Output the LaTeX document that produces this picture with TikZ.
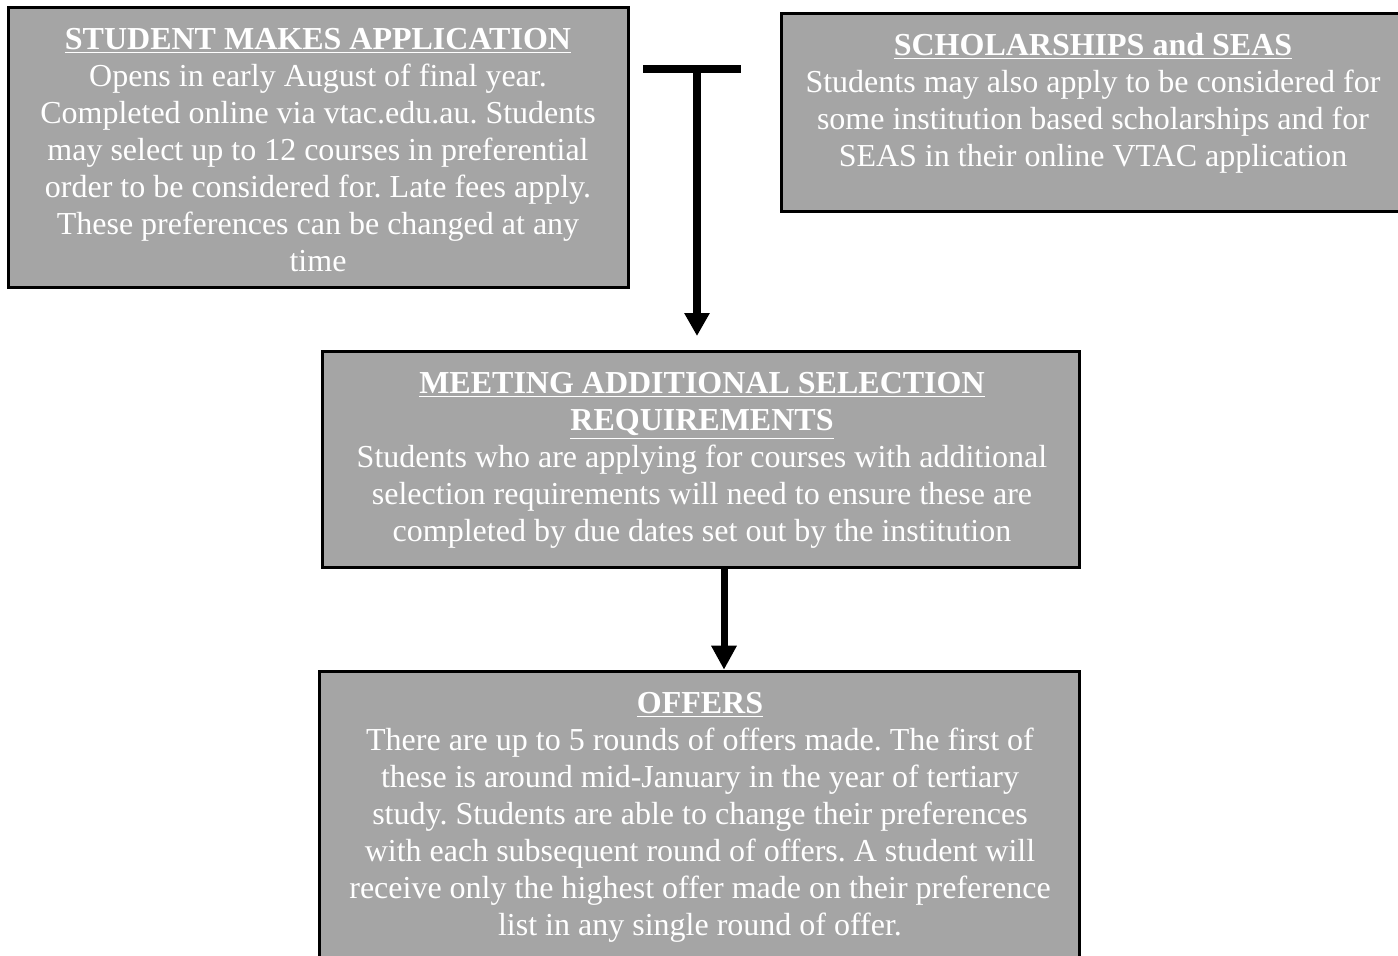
\documentclass[tikz,border=0pt]{standalone}
\usepackage{fontspec}
\setmainfont{Liberation Serif}
\usetikzlibrary{arrows.meta}
\definecolor{boxgray}{HTML}{A5A5A5}
\tikzset{
  flowbox/.style={draw=black, line width=1.8pt, fill=boxgray, rectangle, inner sep=0pt},
  boxtext/.style={text=white, align=center, inner sep=0pt, font=\fontsize{16}{18.5}\selectfont},
  thickarrow/.style={line width=4pt, -{Triangle[width=12pt,length=11.5pt]}},
  thinarrow/.style={line width=3.5pt, -{Triangle[width=12pt,length=12pt]}},
}
\newcommand{\ttl}[1]{\textbf{\underline{#1}}}
\frenchspacing
\begin{document}
\begin{tikzpicture}[x=0.5pt,y=-0.5pt]
\useasboundingbox (0,0) rectangle (1398,955);
\clip (0,0) rectangle (1398,955);
% boxes
\node[flowbox, minimum width=310pt, minimum height=140pt] (b1) at (318.5,147.5) {};
\node[flowbox, minimum width=314.25pt, minimum height=99pt] (b2) at (1095.75,112.5) {};
\node[flowbox, minimum width=378.5pt, minimum height=108pt] (b3) at (701,459.5) {};
\node[flowbox, minimum width=380pt, minimum height=149.25pt] (b4) at (699.5,820.75) {};
% texts
\node[boxtext] (t1) at (318,150) {\ttl{STUDENT MAKES APPLICATION}\\
Opens in early August of final year.\\
Completed online via vtac.edu.au. Students\\
may select up to 12 courses in preferential\\
order to be considered for. Late fees apply.\\
These preferences can be changed at any\\
time};
\node[boxtext] (t2) at (1093,103) {\ttl{SCHOLARSHIPS and SEAS}\\
Students may also apply to be considered for\\
some institution based scholarships and for\\
SEAS in their online VTAC application};
\node[boxtext] (t3) at (702,460.5) {\ttl{MEETING ADDITIONAL SELECTION}\\
\ttl{REQUIREMENTS}\\
Students who are applying for courses with additional\\
selection requirements will need to ensure these are\\
completed by due dates set out by the institution};
\node[boxtext] (t4) at (700,817) {\ttl{OFFERS}\\
There are up to 5 rounds of offers made. The first of\\
these is around mid-January in the year of tertiary\\
study. Students are able to change their preferences\\
with each subsequent round of offers. A student will\\
receive only the highest offer made on their preference\\
list in any single round of offer.};
% T-bar connector
\coordinate (tl) at (643,69);
\coordinate (tr) at (741,69);
\coordinate (tm) at (697,73);
\coordinate (a1end) at (697,336);
\draw[line width=4pt] (tl) -- (tr);
\draw[thickarrow] (tm) -- (a1end);
% second arrow
\coordinate (c2) at (724,600);
\draw[thinarrow] (c2 |- b3.south) -- (c2 |- b4.north);
\end{tikzpicture}
\end{document}
